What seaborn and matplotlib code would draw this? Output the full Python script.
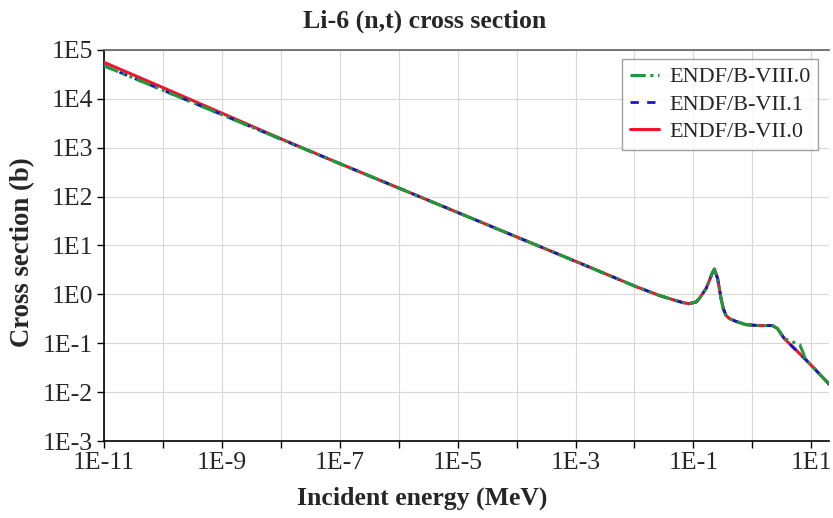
import numpy as np
import pandas as pd
import seaborn as sns
import matplotlib.pyplot as plt
import matplotlib.ticker as mticker

# values (energy in MeV, cross section in b)
energy_viii = [1e-11, 1e-10, 1e-9, 1e-8, 1e-7, 1e-6, 1e-5, 1e-4, 1e-3, 5e-3,
               0.0105, 0.0165, 0.0265, 0.0446, 0.066, 0.085, 0.111, 0.126,
               0.143, 0.164, 0.187, 0.207, 0.227, 0.258, 0.276, 0.295, 0.322,
               0.358, 0.408, 0.53, 0.78, 1.3, 2.2, 2.67, 3.5, 4.2, 5.8, 6.4,
               7.2, 7.9, 8.1, 12.0, 18.7, 20.0]
xs_viii = [4.75e4, 1.50e4, 4.74e3, 1.50e3, 474, 150, 47.4, 15.0, 4.75, 2.11,
           1.45, 1.18, 0.95, 0.78, 0.68, 0.645, 0.70, 0.82,
           1.03, 1.31, 1.93, 2.65, 3.3, 2.1, 1.31, 0.82, 0.51,
           0.37, 0.32, 0.28, 0.24, 0.23, 0.23, 0.20, 0.124, 0.115, 0.097, 0.093,
           0.066, 0.048, 0.046, 0.028, 0.016, 0.0145]

energy_vii1 = [1e-11, 1e-10, 1e-9, 1e-8, 1e-7, 1e-6, 1e-5, 1e-4, 1e-3, 5e-3,
               0.0105, 0.0165, 0.0265, 0.0446, 0.066, 0.085, 0.111, 0.126,
               0.143, 0.164, 0.187, 0.207, 0.227, 0.258, 0.276, 0.295, 0.322,
               0.358, 0.408, 0.53, 0.78, 1.3, 2.2, 2.67, 3.5, 8.1, 12.0, 18.7,
               20.0]
xs_vii1 = [4.75e4, 1.50e4, 4.74e3, 1.50e3, 474, 150, 47.4, 15.0, 4.75, 2.11,
           1.45, 1.18, 0.95, 0.78, 0.68, 0.645, 0.70, 0.82,
           1.03, 1.31, 1.93, 2.65, 3.3, 2.1, 1.31, 0.82, 0.51,
           0.37, 0.32, 0.28, 0.24, 0.23, 0.23, 0.20, 0.124, 0.046, 0.028, 0.016,
           0.0145]

energy_vii0 = [1e-11, 1e-10, 1e-9, 1e-8, 1e-7, 1e-6, 1e-5, 1e-4, 1e-3, 5e-3,
               0.0105, 0.0165, 0.0265, 0.0446, 0.066, 0.085, 0.111, 0.126,
               0.143, 0.164, 0.187, 0.207, 0.227, 0.258, 0.276, 0.295, 0.322,
               0.358, 0.408, 0.53, 0.78, 1.3, 2.2, 2.67, 3.5, 8.1, 12.0, 18.7,
               20.0]
xs_vii0 = [5.6e4, 1.70e4, 5.1e3, 1.53e3, 474, 150, 47.4, 15.0, 4.75, 2.11,
           1.45, 1.18, 0.95, 0.78, 0.68, 0.645, 0.70, 0.82,
           1.03, 1.31, 1.93, 2.65, 3.3, 2.1, 1.31, 0.82, 0.51,
           0.37, 0.32, 0.28, 0.24, 0.23, 0.23, 0.20, 0.124, 0.046, 0.028, 0.016,
           0.0145]

labels = ['ENDF/B-VIII.0', 'ENDF/B-VII.1', 'ENDF/B-VII.0']
x_ticks = [1e-11, 1e-10, 1e-9, 1e-8, 1e-7, 1e-6, 1e-5, 1e-4, 1e-3, 1e-2, 1e-1, 1e0, 1e1]
x_ticklabels = ['1E-11', '', '1E-9', '', '1E-7', '', '1E-5', '', '1E-3', '', '1E-1', '', '1E1']
y_ticks = [1e-3, 1e-2, 1e-1, 1e0, 1e1, 1e2, 1e3, 1e4, 1e5]
y_ticklabels = ['1E-3', '1E-2', '1E-1', '1E0', '1E1', '1E2', '1E3', '1E4', '1E5']

sns.set_theme(style='white')
plt.rcParams['font.family'] = ['Liberation Serif', 'DejaVu Serif']

fig = plt.figure(figsize=(8.33, 5.18), dpi=100)
ax = fig.add_axes([104 / 833, 1 - 441 / 518, 725 / 833, 391 / 518])

df_vii0 = pd.DataFrame({'E': energy_vii0, 'xs': xs_vii0})
df_vii1 = pd.DataFrame({'E': energy_vii1, 'xs': xs_vii1})
df_viii = pd.DataFrame({'E': energy_viii, 'xs': xs_viii})

sns.lineplot(data=df_vii0, x='E', y='xs', ax=ax, color='#f5102c', lw=2.2,
             label=labels[2], zorder=3, sort=False)
sns.lineplot(data=df_vii1, x='E', y='xs', ax=ax, color='#1616c8', lw=2.0,
             label=labels[1], zorder=4, sort=False, linestyle=(0, (3, 3)))
sns.lineplot(data=df_viii, x='E', y='xs', ax=ax, color='#1c9a3a', lw=2.2,
             label=labels[0], zorder=5, sort=False,
             linestyle=(0, (5, 1.5, 1, 1.5, 1, 1.5)))

ax.set_xscale('log')
ax.set_yscale('log')
ax.set_xlim(1e-11, 20)
ax.set_ylim(1e-3, 1e5)
ax.xaxis.set_major_locator(mticker.FixedLocator(x_ticks))
ax.xaxis.set_minor_locator(mticker.NullLocator())
ax.yaxis.set_major_locator(mticker.FixedLocator(y_ticks))
ax.yaxis.set_minor_locator(mticker.NullLocator())
ax.set_xticklabels(x_ticklabels)
ax.set_yticklabels(y_ticklabels)
ax.tick_params(axis='both', which='major', labelsize=18.5, direction='out',
               length=5, width=1, color='black', bottom=True, left=True, pad=3)

ax.grid(True, color='#d8d8d8', lw=0.8)
for side in ['left', 'bottom']:
    ax.spines[side].set_color('black')
    ax.spines[side].set_linewidth(1.2)
ax.spines['top'].set_color('#666666')
ax.spines['right'].set_visible(False)

ax.set_title('Li-6 (n,t) cross section', fontsize=18.5, fontweight='bold',
             pad=16, x=(424.5 - 104) / 725)
ax.set_xlabel('Incident energy (MeV)', fontsize=18.5, fontweight='bold')
ax.set_ylabel('Cross section (b)', fontsize=19.3, fontweight='bold')
ax.xaxis.set_label_coords((422.5 - 104) / 725, -(498 - 441) / 391)
ax.yaxis.set_label_coords(-(104 - 23) / 725, (441 - 252) / 391)
ax.xaxis.label.set_va('center')
ax.yaxis.label.set_va('center')

handles, labs = ax.get_legend_handles_labels()
order = [labs.index(l) for l in labels]
leg = ax.legend([handles[i] for i in order], [labs[i] for i in order],
                loc='upper right', bbox_to_anchor=(0.985, 0.977), borderaxespad=0,
                fontsize=16, frameon=True, fancybox=False, edgecolor='#888888',
                handlelength=1.3, handletextpad=0.45, labelspacing=0.3,
                borderpad=0.35)
leg.get_frame().set_linewidth(1.0)

fig.savefig('out.png', dpi=100)
